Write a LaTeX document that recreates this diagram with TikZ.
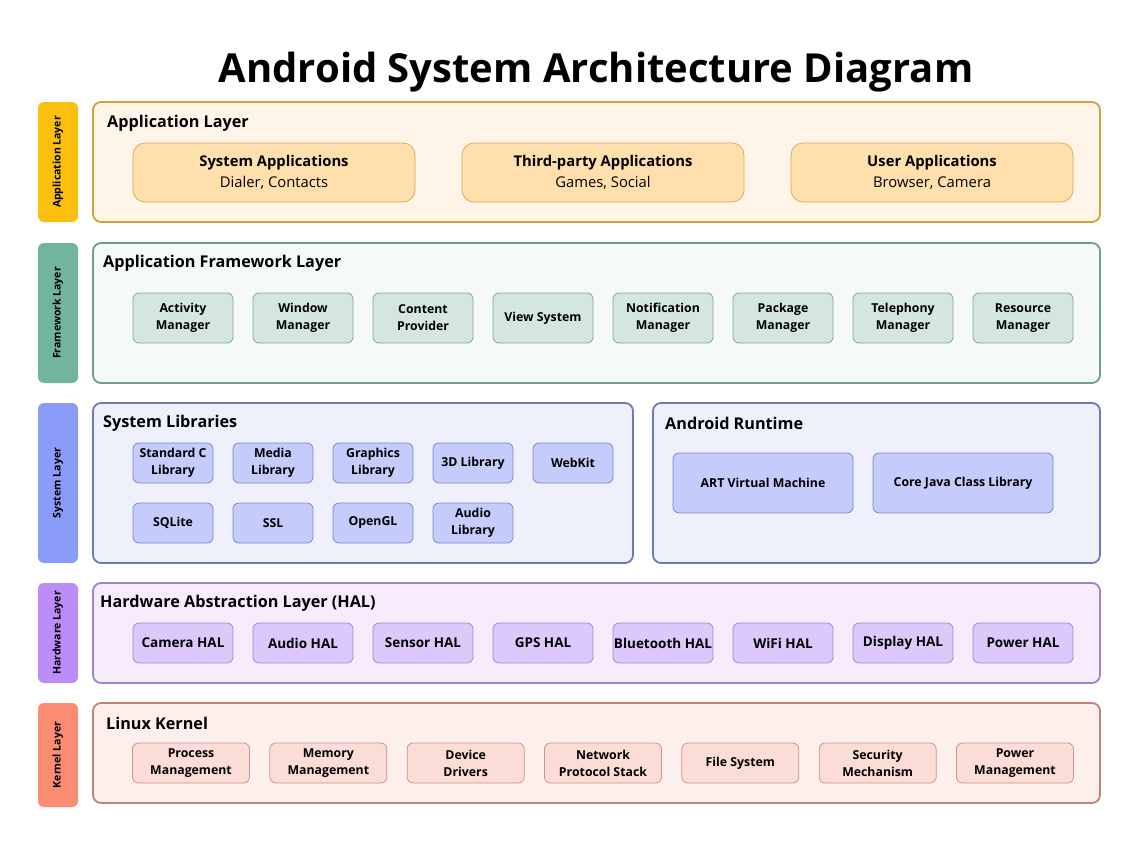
\documentclass[tikz,border=0pt]{standalone}
\usepackage{fontspec}
\setmainfont{Open Sans}
\definecolor{apptab}{HTML}{FBBF10}
\definecolor{appfill}{HTML}{FFF4E8}
\definecolor{appdraw}{HTML}{CFA23C}
\definecolor{appitem}{HTML}{FFE0AD}
\definecolor{appitemdraw}{HTML}{D8AA5A}
\definecolor{fwtab}{HTML}{72B59E}
\definecolor{fwfill}{HTML}{F5F9F7}
\definecolor{fwdraw}{HTML}{6E9E8E}
\definecolor{fwitem}{HTML}{D4E6DE}
\definecolor{fwitemdraw}{HTML}{7FA898}
\definecolor{systab}{HTML}{8B9CF8}
\definecolor{sysfill}{HTML}{EEF0FB}
\definecolor{sysdraw}{HTML}{7078B8}
\definecolor{sysitem}{HTML}{C5CBFA}
\definecolor{sysitemdraw}{HTML}{7E87CC}
\definecolor{hwtab}{HTML}{BC8CF8}
\definecolor{hwfill}{HTML}{F6ECFD}
\definecolor{hwdraw}{HTML}{A084C8}
\definecolor{hwitem}{HTML}{DCC8FB}
\definecolor{hwitemdraw}{HTML}{A58AD0}
\definecolor{ktab}{HTML}{FA8C72}
\definecolor{kfill}{HTML}{FDEFEC}
\definecolor{kdraw}{HTML}{C0837A}
\definecolor{kitem}{HTML}{FCDCD6}
\definecolor{kitemdraw}{HTML}{C9958E}
\tikzset{
	sidetab/.style={rounded corners=6pt,rotate=90,minimum height=40pt,inner sep=0pt,
		font=\fontsize{10.5}{12}\selectfont\bfseries},
	layerbox/.style={rounded corners=8pt,line width=1.8pt,inner sep=0pt},
	heading/.style={anchor=west,inner sep=0pt,font=\fontsize{16.2}{19}\selectfont\bfseries},
	itembox/.style={rounded corners=6pt,line width=0.8pt,inner sep=0pt,align=center,
		font=\fontsize{12.3}{17}\selectfont\bfseries}
}
\begin{document}
\begin{tikzpicture}[x=1pt,y=-1pt]
		\useasboundingbox (0,0) rectangle (1139,847);
		\node (title) at(596,72){\fontsize{40}{48}\selectfont\bfseries Android System Architecture Diagram};
		% side tabs
		\node[sidetab,fill=apptab,minimum width=120pt] (tabapp) at(58,162){Application Layer};
		\node[sidetab,fill=fwtab,minimum width=140pt] (tabfw) at(58,313){Framework Layer};
		\node[sidetab,fill=systab,minimum width=160pt] (tabsys) at(58,483){System Layer};
		\node[sidetab,fill=hwtab,minimum width=100pt] (tabhw) at(58,633){Hardware Layer};
		\node[sidetab,fill=ktab,minimum width=104pt] (tabk) at(58,755){Kernel Layer};
		% layer boxes
		\node[layerbox,fill=appfill,draw=appdraw,minimum width=1007pt,minimum height=120pt] (applayer) at(596.5,162){};
		\node[layerbox,fill=fwfill,draw=fwdraw,minimum width=1007pt,minimum height=140pt] (fwlayer) at(596.5,313){};
		\node[layerbox,fill=sysfill,draw=sysdraw,minimum width=540pt,minimum height=160pt] (syslib) at(363,483){};
		\node[layerbox,fill=sysfill,draw=sysdraw,minimum width=447pt,minimum height=160pt] (runtime) at(876.5,483){};
		\node[layerbox,fill=hwfill,draw=hwdraw,minimum width=1007pt,minimum height=100pt] (hal) at(596.5,633){};
		\node[layerbox,fill=kfill,draw=kdraw,minimum width=1007pt,minimum height=100pt] (kernel) at(596.5,753){};
		\node[heading] (happ) at(107,123){Application Layer};
		\node[heading] (hfw) at(103,263){Application Framework Layer};
		\node[heading] (hsys) at(103,423){System Libraries};
		\node[heading] (hrt) at(665,423){Android Runtime};
		\node[heading] (hhal) at(100,603){Hardware Abstraction Layer (HAL)};
		\node[heading] (hk) at(106,723){Linux Kernel};
		% application layer
		\foreach \x/\n/\a/\b in{274/sysapp/System Applications/{Dialer, Contacts},
			603/thirdapp/Third-party Applications/{Games, Social},
			932/userapp/User Applications/{Browser, Camera}}{
			\node[itembox,rounded corners=12pt,fill=appitem,draw=appitemdraw,minimum width=282pt,minimum height=59pt,
				font=\fontsize{14.8}{21}\selectfont] (\n) at(\x,172.5){\textbf{\a}\\\b};
		}
		% framework layer
		\foreach \t [count=\i from 0] in{{Activity\\Manager},{Window\\Manager},{Content\\Provider},{View System},
			{Notification\\Manager},{Package\\Manager},{Telephony\\Manager},{Resource\\Manager}}{
			\node[itembox,fill=fwitem,draw=fwitemdraw,minimum width=100pt,minimum height=50pt] (fw\i) at(183+120*\i,318){\t};
		}
		% system libraries
		\foreach \t [count=\i from 0] in{{Standard C\\Library},{Media\\Library},{Graphics\\Library},{3D Library},{WebKit}}{
			\node[itembox,fill=sysitem,draw=sysitemdraw,minimum width=80pt,minimum height=40pt] (liba\i) at(173+100*\i,463){\t};
		}
		\foreach \t [count=\i from 0] in{{SQLite},{SSL},{OpenGL},{Audio\\Library}}{
			\node[itembox,fill=sysitem,draw=sysitemdraw,minimum width=80pt,minimum height=40pt] (libb\i) at(173+100*\i,523){\t};
		}
		% android runtime
		\node[itembox,fill=sysitem,draw=sysitemdraw,minimum width=180pt,minimum height=60pt] (art) at(763,483){ART Virtual Machine};
		\node[itembox,fill=sysitem,draw=sysitemdraw,minimum width=180pt,minimum height=60pt] (corejava) at(963,483){Core Java Class Library};
		% hal
		\foreach \t [count=\i from 0] in{Camera HAL,Audio HAL,Sensor HAL,GPS HAL,Bluetooth HAL,WiFi HAL,Display HAL,Power HAL}{
			\node[itembox,fill=hwitem,draw=hwitemdraw,minimum width=100pt,minimum height=40pt,
				font=\fontsize{13.5}{16}\selectfont\bfseries] (hal\i) at(183+120*\i,643){\t};
		}
		% kernel
		\foreach \t [count=\i from 0] in{{Process\\Management},{Memory\\Management},{Device\\Drivers},{Network\\Protocol Stack},
			{File System},{Security\\Mechanism},{Power\\Management}}{
			\node[itembox,fill=kitem,draw=kitemdraw,minimum width=117pt,minimum height=40pt] (k\i) at(191+137.33*\i,763){\t};
		}
	\end{tikzpicture}
\end{document}
